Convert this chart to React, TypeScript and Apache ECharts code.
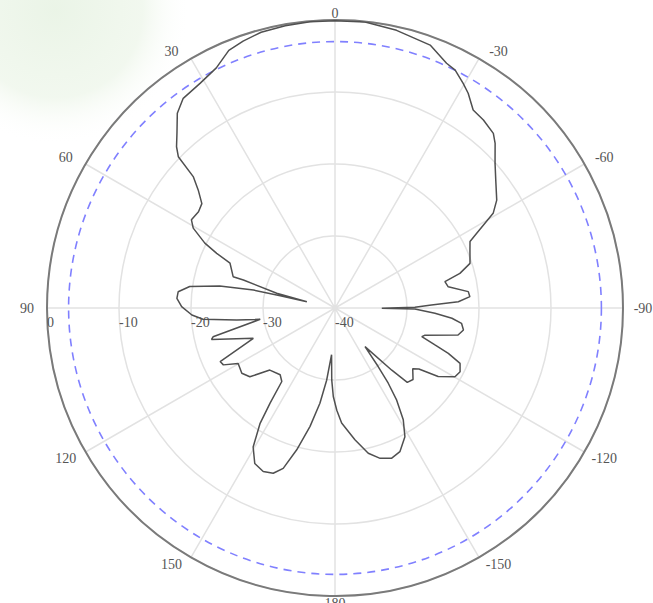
import React, { useEffect, useRef } from "react";
import * as echarts from "echarts";

// Antenna pattern: angle in degrees (0 = top, positive = counter-clockwise), gain in dB
const patternAngles: number[] = [
  0, 5, 10, 15, 19, 22.4, 26.3, 31, 35.9, 39, 42, 44.5, 46, 47.2, 49.2, 51.9, 54.8, 58.45, 60.6, 63.5, 65.2, 66.9,
  72.9, 73, 75.8, 77.4,
  77.3, 77.6, 79.2, 81.6, 84.1, 86.5, 89.5, 92.8, 94.9, 97, 98.6, 103.3, 104.3, 110.4, 115, 117, 119.8, 125, 128.9,
  133.6, 140.6, 144.1, 145.7, 147, 149.5, 152.7, 156.3, 159.5, 162.1, 164.9, 168.1, 171, 173.4, 175.8,
  177.4, 178.9, -179, -176.7, -171.4, -167.1, -163.3, -159.3, -155.7, -151.5, -148.6, -146.2, -144.7, -143.6, -142.2,
  -137.6, -135.8, -132.5, -128, -126, -123.6, -119.8, -117, -113.9, -111.8, -110.3, -108.3, -107, -102.4, -99.7,
  -96.9, -95, -93, -90.7, -90.2, -89.5, -88.2, -87.1, -85.2, -83, -79.4, -76.5, -74.5, -71.7, -66.75, -63.8, -62.2,
  -59.1, -56.3, -51.5, -47.9, -44.2, -42.2, -38.3, -34.9, -31.8, -29.7, -26.8, -24.5, -19.9, -12.5, -6, 0,
];
const patternGains: number[] = [
  -0.1, -0.1, -0.2, -0.35, -0.8, -1.3, -2.8, -3.6, -4.05, -5.2, -7.2, -8.6, -9.75, -13.2, -14.9, -16.5, -16.8, -16.6, -17.4, -19.8, -21.9, -24.15,
  -25.2, -26.7, -31.65, -36,
  -32.2, -28.4, -23.7, -19.6, -18.1, -18, -18.7, -20.1, -21.6, -26.25, -29.5, -22.6, -22.3, -27.9, -22.4, -22.6, -24.5, -24.2, -24.8,
  -27.5, -28, -27.4, -24, -20.9, -17.6, -15.7, -15.2, -15.5, -16.6, -19.6, -23.2, -26.6, -29.9, -33.5,
  -30, -27.7, -25.8, -24, -21.5, -19.3, -18.2, -17.7, -18.1, -19.65, -21.8, -24.6, -27.2, -29.9, -33.2,
  -28.3, -25.6, -25.3, -26.3, -25.6, -22.8, -20.8, -20.5, -21, -23.05, -25.2, -27.3, -27, -22.5, -21.9,
  -22.3, -23.7, -26.1, -28.9, -33.5, -28.9, -26.6, -22.85, -21.2, -21.35, -24, -24.3, -22, -20.25, -19.6, -19.1, -17.75,
  -14.4, -13, -11.47, -10.04, -8.1, -7.26, -6.74, -6.46, -4.9, -4.07, -2.98, -2.64, -1.17, -0.5, -0.05, -0.1,
];

const radiusMin = -40;
const radiusMax = 0;
const radiusStep = 10;
const halfPowerLevel = -3;
const angleTickStep = 30;

const CX = 335;
const CY = 308;
const R = 288;
const FONT = "Liberation Serif";

// axis runs from 90 (left) counter-clockwise round to 450 (=90 again), so the radius axis lies on the left
const toAxisAngle = (a: number) => (a >= 90 ? a : a + 360);

export default function App() {
  const ref = useRef<HTMLDivElement>(null);
  useEffect(() => {
    if (!ref.current) return;
    const chart = echarts.init(ref.current, undefined, { renderer: "svg" });
    const data = patternAngles.map((a, i) => [patternGains[i], toAxisAngle(a)]);
    const refRadius = (R * (halfPowerLevel - radiusMin)) / (radiusMax - radiusMin);
    chart.setOption({
      animation: false,
      backgroundColor: "#ffffff",
      graphic: [
        {
          type: "circle",
          z: -100,
          silent: true,
          shape: { cx: 55, cy: 10, r: 135 },
          style: {
            fill: {
              type: "radial",
              x: 0.5,
              y: 0.5,
              r: 0.5,
              colorStops: [
                { offset: 0, color: "rgba(232,243,228,0.9)" },
                { offset: 0.65, color: "rgba(236,245,232,0.7)" },
                { offset: 1, color: "rgba(255,255,255,0)" },
              ],
            },
          },
        },
      ],
      polar: [
        { center: [CX, CY], radius: R },
        { center: [CX, CY], radius: refRadius },
      ],
      angleAxis: [
        {
          polarIndex: 0,
          type: "value",
          min: 90,
          max: 450,
          interval: angleTickStep,
          startAngle: 180,
          clockwise: false,
          axisLine: { show: true, lineStyle: { color: "#7a7a7a", width: 2 } },
          axisTick: { show: false },
          axisLabel: {
            show: true,
            margin: 1,
            color: "#555",
            fontFamily: FONT,
            fontSize: 14,
            formatter: (v: number) => {
              if (v >= 450) return "";
              const a = v > 180 ? v - 360 : v;
              return "{lb|" + a + "}";
            },
            rich: {
              lb: {
                width: 38,
                height: 12,
                lineHeight: 12,
                align: "center",
                verticalAlign: "middle",
                color: "#555",
                fontFamily: FONT,
                fontSize: 14,
              },
            },
          },
          splitLine: { show: true, lineStyle: { color: "#e2e2e2", width: 1.5 } },
        },
        {
          polarIndex: 1,
          type: "value",
          min: 90,
          max: 450,
          startAngle: 180,
          clockwise: false,
          axisLine: { show: true, lineStyle: { color: "#8080ff", width: 1.6, type: [8, 6] } },
          axisTick: { show: false },
          axisLabel: { show: false },
          splitLine: { show: false },
        },
      ],
      radiusAxis: [
        {
          polarIndex: 0,
          type: "value",
          min: radiusMin,
          max: radiusMax,
          interval: radiusStep,
          axisLine: { show: false },
          axisTick: { show: false },
          axisLabel: {
            show: true,
            margin: 7,
            align: "left",
            verticalAlign: "top",
            color: "#555",
            fontFamily: FONT,
            fontSize: 14,
          },
          splitLine: { show: true, lineStyle: { color: "#e2e2e2", width: 1.5 } },
        },
        {
          polarIndex: 1,
          type: "value",
          min: radiusMin,
          max: halfPowerLevel,
          show: false,
          axisLine: { show: false },
          axisTick: { show: false },
          axisLabel: { show: false },
          splitLine: { show: false },
        },
      ],
      series: [
        {
          type: "line",
          coordinateSystem: "polar",
          polarIndex: 0,
          data,
          showSymbol: false,
          symbol: "none",
          lineStyle: { color: "#505050", width: 1.5 },
          z: 5,
        },
      ],
    });
    return () => chart.dispose();
  }, []);
  return (
    <div
      ref={ref}
      style={{ position: "absolute", left: 0, top: 0, width: 653, height: 603 }}
    />
  );
}
